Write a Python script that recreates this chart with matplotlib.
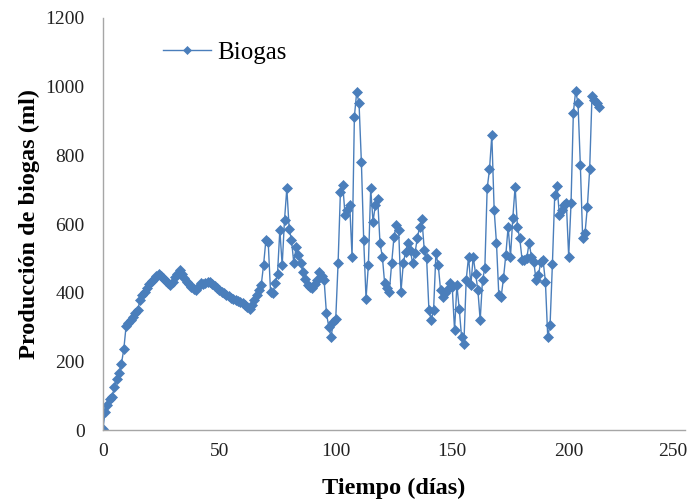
import matplotlib
matplotlib.use("Agg")
import matplotlib.pyplot as plt
import matplotlib.transforms as mtransforms

days = list(range(0, 214))
biogas = [
    2, 53, 73, 92, 97, 126, 150, 165, 194, 235,
    303, 313, 320, 330, 340, 350, 380, 392, 403, 415,
    425, 433, 440, 450, 456, 450, 442, 435, 428, 422,
    430, 445, 455, 466, 455, 442, 432, 425, 418, 410,
    408, 418, 427, 425, 427, 430, 430, 425, 420, 414,
    408, 402, 398, 394, 390, 386, 383, 380, 377, 373,
    370, 365, 358, 352, 365, 380, 393, 408, 422, 480,
    553, 548, 403, 398, 427, 456, 583, 480, 612, 704,
    587, 553, 486, 534, 510, 486, 461, 440, 422, 418,
    413, 425, 437, 461, 450, 437, 340, 301, 272, 315,
    325, 486, 694, 714, 626, 641, 655, 505, 913, 985,
    951, 781, 553, 383, 480, 704, 607, 655, 672, 544,
    505, 427, 413, 403, 486, 563, 597, 583, 403, 486,
    520, 544, 524, 486, 515, 558, 592, 614, 524, 500,
    350, 320, 350, 515, 480, 408, 388, 398, 410, 427,
    417, 291, 422, 354, 272, 252, 437, 505, 422, 505,
    456, 408, 320, 437, 471, 704, 759, 859, 641, 544,
    393, 388, 442, 510, 592, 505, 617, 709, 592, 558,
    495, 495, 500, 546, 505, 490, 437, 451, 490, 495,
    432, 272, 306, 483, 684, 711, 626, 641, 655, 660,
    505, 660, 924, 988, 951, 772, 558, 573, 649, 759,
    973, 961, 951, 940,
]
xticks = [0, 50, 100, 150, 200, 250]
yticks = [0, 200, 400, 600, 800, 1000, 1200]

plt.rcParams['font.family'] = ['Liberation Serif', 'DejaVu Serif']

fig = plt.figure(figsize=(6.9, 4.99), dpi=100)
ax = fig.add_axes([0.149, 0.138, 0.844, 0.826])

color = '#4A7EBB'
ax.plot(days, biogas, color=color, lw=1.0, marker='D', markersize=5.2,
        markeredgewidth=0.5, markeredgecolor=color, label='Biogas')

ax.set_xlim(0, 250)
ax.set_ylim(0, 1200)
ax.set_xticks(xticks)
ax.set_yticks(yticks)
ax.tick_params(axis='y', length=0, labelsize=14, pad=13, colors='#222222')
ax.tick_params(axis='x', length=0, labelsize=14, pad=9, colors='#222222')

# keep the last x tick label inside the figure
last = ax.get_xticklabels()[-1]
last.set_transform(last.get_transform() +
                   mtransforms.ScaledTranslation(-9 / 72, 0, fig.dpi_scale_trans))

for s in ['top', 'right']:
    ax.spines[s].set_visible(False)
for s in ['left', 'bottom']:
    ax.spines[s].set_color('#A6A6A6')
    ax.spines[s].set_linewidth(1.0)

ax.set_xlabel('Tiempo (días)', fontsize=17.5, fontweight='bold', labelpad=13)
ax.set_ylabel('Producción de biogas (ml)', fontsize=17.5, fontweight='bold', labelpad=4)

leg = ax.legend(loc='center left', bbox_to_anchor=(0.104, 0.915), frameon=False,
                fontsize=18, handlelength=1.9, markerscale=0.7, handletextpad=0.25,
                borderpad=0, borderaxespad=0)

fig.savefig('out.png', dpi=100)
